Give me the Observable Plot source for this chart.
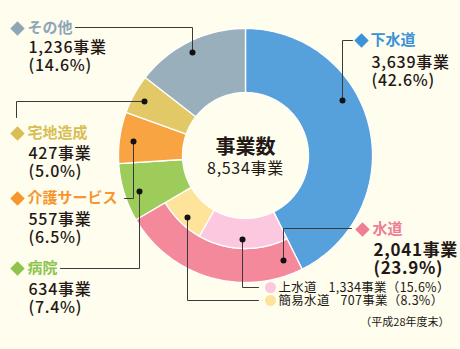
<!DOCTYPE html>
<html><head><meta charset="utf-8">
<script src="https://cdn.jsdelivr.net/npm/d3@7"></script>
<script src="https://cdn.jsdelivr.net/npm/@observablehq/plot@0.6"></script>
<style>
html,body{margin:0;padding:0;background:#fefdee;}
</style></head><body><div id="chart"></div>
<script>
// ---- data ----
const categories = ["下水道", "水道", "病院", "介護サービス", "宅地造成", "その他"];
const counts = [3639, 2041, 634, 557, 427, 1236];
const shares = ["42.6", "23.9", "7.4", "6.5", "5.0", "14.6"];
const subCategories = ["上水道", "簡易水道"];
const subCounts = [1334, 707];
const subShares = ["15.6", "8.3"];
const centerTitle = "事業数";
const total = 8534;
const note = "（平成28年度末）";

// ---- styles ----
const colors = ["#56a0dc", "#f4899b", "#9dcc5b", "#f9a442", "#e2c866", "#9aafbc"];
const labelColors = ["#3b92d8", "#ef7d94", "#8cc44e", "#f7952f", "#d9bd55", "#8ea6b5"];
const subColors = ["#fbc8df", "#fee39a"];
const ink = "#231815";
const cx = 245, cy = 155, R = 127, RI = 63, RM = 93;

// label layout (pixel positions of annotations)
const layout = [
  {m: [361, 40], t: 370, v: [62, 80], lead: [[352, 40], [342, 40], [342, 100]]},
  {m: [362, 229], t: 372, v: [250, 268], lead: [[351, 228], [283, 228], [283, 260]]},
  {m: [17, 268], t: 27, v: [289, 307], lead: [[60, 268], [139, 268], [139, 191]]},
  {m: [17, 198], t: 27, v: [219, 237], lead: [[124, 198], [133, 198], [133, 141]]},
  {m: [17, 133], t: 27, v: [153, 171], lead: [[16, 117], [16, 101], [144, 101]]},
  {m: [17, 28], t: 27, v: [47, 65], lead: [[75, 27], [192, 27], [192, 52]]}
];
const subLayout = [
  {m: [270, 287], t: 278, vx: 328, lead: [[242, 239], [242, 287], [258, 287]]},
  {m: [270, 300], t: 278, vx: 340, lead: [[187, 217], [187, 300], [258, 300]]}
];

// ---- geometry ----
function arcPoly(a0, a1, ri, ro) {
  const n = Math.max(2, Math.ceil((a1 - a0) / (Math.PI / 180)) + 1);
  const pts = [];
  for (let i = 0; i < n; i++) {
    const a = a0 + (a1 - a0) * i / (n - 1);
    pts.push({x: cx + ro * Math.sin(a), y: cy - ro * Math.cos(a)});
  }
  for (let i = n - 1; i >= 0; i--) {
    const a = a0 + (a1 - a0) * i / (n - 1);
    pts.push({x: cx + ri * Math.sin(a), y: cy - ri * Math.cos(a)});
  }
  return pts;
}

const fmt = d3.format(",");
const marks = [];
let acc = 0;
categories.forEach((c, i) => {
  const a0 = acc / total * 2 * Math.PI;
  acc += counts[i];
  const a1 = acc / total * 2 * Math.PI;
  const inner = c === "水道" ? RM : RI;
  marks.push(Plot.line(arcPoly(a0, a1, inner, R), {x: "x", y: "y", fill: colors[i], stroke: "#ffffff", strokeWidth: 1.3, curve: "linear-closed"}));
  if (c === "水道") {
    let sacc = 0;
    subCategories.forEach((s, j) => {
      const b0 = a0 + sacc / total * 2 * Math.PI;
      sacc += subCounts[j];
      const b1 = a0 + sacc / total * 2 * Math.PI;
      marks.push(Plot.line(arcPoly(b0, b1, RI, RM), {x: "x", y: "y", fill: subColors[j], stroke: "#ffffff", strokeWidth: 1.3, curve: "linear-closed"}));
    });
  }
});

// leaders
const leaders = [...layout.map(l => l.lead), ...subLayout.map(l => l.lead)];
leaders.forEach(pts => {
  marks.push(Plot.line(pts.map(([x, y]) => ({x, y})), {x: "x", y: "y", stroke: "#3a3a3a", strokeWidth: 1}));
});
const ringDots = [...layout.map(l => l.lead[2]), ...subLayout.map(l => l.lead[0])];
marks.push(Plot.dot(ringDots.map(([x, y]) => ({x, y})), {x: "x", y: "y", r: 3, fill: "#111", stroke: "none"}));

// category labels
const catRows = categories.map((c, i) => ({
  c, mx: layout[i].m[0], my: layout[i].m[1], t: layout[i].t,
  v1: `${fmt(counts[i])}事業`, v2: `(${shares[i]}%)`, y1: layout[i].v[0], y2: layout[i].v[1], color: labelColors[i], bold: c === "水道"
}));
catRows.forEach(r => {
  marks.push(Plot.dot([r], {x: "mx", y: "my", symbol: "diamond2", r: 6.5, fill: r.color, stroke: "none"}));
  marks.push(Plot.text([r], {x: "t", y: "my", text: "c", textAnchor: "start", fill: r.color, fontSize: 15, fontWeight: "bold"}));
  marks.push(Plot.text([r], {x: d => d.t + 1, y: "y1", text: "v1", textAnchor: "start", fill: ink, fontSize: r.bold ? 17 : 16, fontWeight: r.bold ? "bold" : "500"}));
  marks.push(Plot.text([r], {x: d => d.t + 1, y: "y2", text: "v2", textAnchor: "start", fill: ink, fontSize: r.bold ? 17 : 16, fontWeight: r.bold ? "bold" : "500"}));
});

// sub labels
const subRows = subCategories.map((s, j) => ({
  s, mx: subLayout[j].m[0], my: subLayout[j].m[1], t: subLayout[j].t, vx: subLayout[j].vx,
  v: `${fmt(subCounts[j])}事業（${subShares[j]}%）`, color: subColors[j]
}));
marks.push(Plot.dot(subRows, {x: "mx", y: "my", r: 5.5, fill: "color", stroke: "none"}));
marks.push(Plot.text(subRows, {x: "t", y: "my", text: "s", textAnchor: "start", fill: ink, fontSize: 12.5}));
marks.push(Plot.text(subRows, {x: "vx", y: "my", text: "v", textAnchor: "start", fill: ink, fontSize: 12.5}));

// center
marks.push(Plot.text([{x: cx, y: 147, t: centerTitle}], {x: "x", y: "y", text: "t", fontSize: 20, fontWeight: "bold", fill: ink}));
marks.push(Plot.text([{x: cx, y: 168, t: `${fmt(total)}事業`}], {x: "x", y: "y", text: "t", fontSize: 16, fill: ink}));
// note
marks.push(Plot.text([{x: 449, y: 322, t: note}], {x: "x", y: "y", text: "t", textAnchor: "end", fontSize: 11, fill: ink}));

const chart = Plot.plot({
  width: 460, height: 349, margin: 0,
  x: {domain: [0, 460], range: [0, 460], axis: null},
  y: {domain: [0, 349], range: [0, 349], axis: null},
  color: {type: "identity"},
  style: {background: "#fefdee", fontFamily: "'Noto Sans CJK JP', 'Noto Sans', sans-serif"},
  marks
});
// slightly wider letter spacing for numbers, as in the reference
d3.select(chart).selectAll("g[font-size='16'], g[font-size='17']").attr("letter-spacing", "0.7");
d3.select(chart).selectAll("g[font-size='12.5']").attr("letter-spacing", "0.3");
document.getElementById("chart").appendChild(chart);
</script>
</body></html>
